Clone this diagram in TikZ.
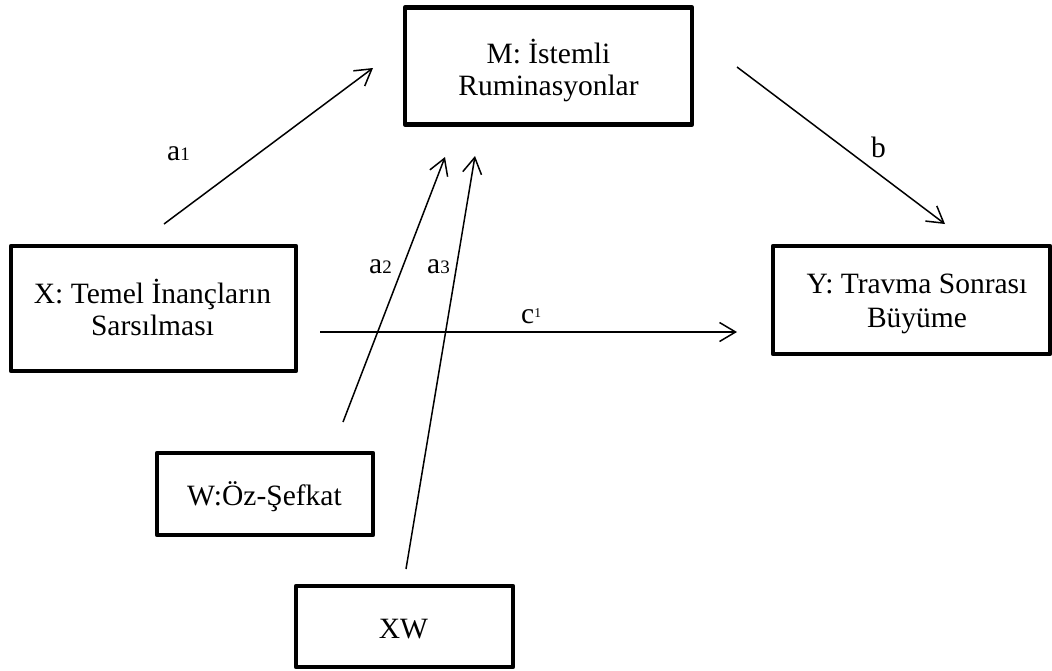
\documentclass[tikz,border=0pt]{standalone}
\usepackage{fontspec}
\setmainfont{Liberation Serif}
\usetikzlibrary{arrows.meta}
\newcommand\subdig[1]{{\fontsize{19}{19}\selectfont #1}}
\newcommand\supdig[1]{\raisebox{6pt}{\fontsize{13.5}{13.5}\selectfont #1}}
\begin{document}
\begin{tikzpicture}[x=1pt,y=-1pt,
  box/.style={draw, line width=4.5pt, line join=round, inner sep=0pt},
  txt/.style={font=\fontsize{29.5}{32}\selectfont, align=center, inner sep=0pt, anchor=base},
  arr/.style={line width=1.5pt, -{Straight Barb[length=16pt,width=19pt]}},
  lab/.style={font=\fontsize{29.5}{32}\selectfont, inner sep=0pt, anchor=base west}]
\useasboundingbox (0,0) rectangle (1052,670);
\fill[white] (0,0) rectangle (1052,670);
% boxes
\node[box, minimum width=287pt, minimum height=117pt] (M) at (548.5,66) {};
\node[box, minimum width=285pt, minimum height=125pt] (X) at (153.5,308.5) {};
\node[box, minimum width=277pt, minimum height=108pt] (Y) at (911.5,300) {};
\node[box, minimum width=216pt, minimum height=82pt] (W) at (265,494) {};
\node[box, minimum width=217pt, minimum height=81pt] (XW) at (404.5,626.5) {};
% texts (base anchor = baseline of the last line)
\node[txt] (Mt) at (548.5,95) {M: İstemli\\Ruminasyonlar};
\node[txt] (Xt) at (152.5,335) {X: Temel İnançların\\Sarsılması};
\node[txt, font=\fontsize{29.5}{33.5}\selectfont] (Yt) at (917,327) {Y: Travma Sonrası\\Büyüme};
\node[txt] (Wt) at (264.5,505) {W:Öz-Şefkat};
\node[txt] (XWt) at (403.5,638) {XW};
% connector ends
\coordinate (a1s) at (164,224);  \coordinate (a1e) at (373,68);
\coordinate (bs) at (737,67);    \coordinate (be) at (945,224);
\coordinate (cs) at (320,332);   \coordinate (ce) at (737,332);
\coordinate (a2s) at (343,422);  \coordinate (a2e) at (445,157);
\coordinate (a3s) at (406,569);  \coordinate (a3e) at (475,156);
% connectors
\draw[arr] (a1s) -- (a1e);
\draw[arr] (bs) -- (be);
\draw[arr] (cs) -- (ce);
\draw[arr] (a2s) -- (a2e);
\draw[arr] (a3s) -- (a3e);
% labels
\node[lab] (la1) at (167,160) {a\subdig{1}};
\node[lab] (lb) at (871,157) {b};
\node[lab] (lc) at (521,323) {c\supdig{1}};
\node[lab] (la2) at (369,273) {a\subdig{2}};
\node[lab] (la3) at (427,273) {a\subdig{3}};
\end{tikzpicture}
\end{document}
